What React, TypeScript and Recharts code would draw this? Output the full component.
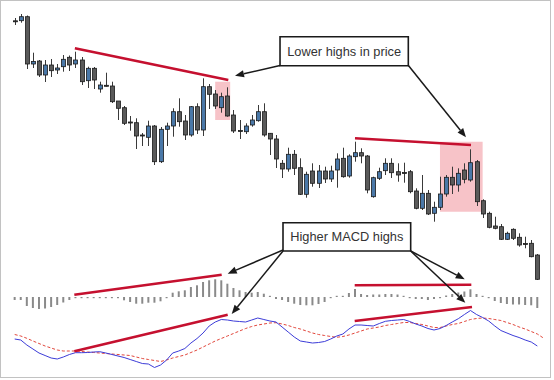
import {
  ComposedChart,
  Bar,
  Line,
  XAxis,
  YAxis,
  ReferenceLine,
  ReferenceArea,
} from 'recharts';

// daily candles
const opens = [
  135.92, 135.93, 136.33, 131.6, 131.9, 130.5, 131.5, 131.0, 131.33, 132.27,
  131.6, 132.0, 129.93, 131.17, 129.1, 129.47, 129.4, 127.9, 127.23, 125.8,
  125.73, 124.5, 124.27, 125.4, 121.83, 125.07, 125.4, 126.83, 125.9, 124.5,
  127.33, 125.0, 129.33, 128.6, 127.23, 128.4, 126.5, 124.95, 124.83, 125.5,
  125.93, 126.83, 124.67, 124.1, 121.67, 121.1, 122.57, 121.23, 118.57, 120.9,
  119.67, 120.9, 120.1, 121.0, 122.17, 120.4, 122.33, 122.73, 122.4, 118.33,
  120.17, 120.93, 121.67, 120.83, 120.75, 120.83, 118.9, 117.17, 118.67, 116.67,
  117.27, 118.6, 120.27, 119.5, 121.0, 120.0, 121.83, 117.93, 116.67, 115.4,
  115.33, 114.07, 115.07, 114.27, 113.65, 113.67, 112.5,
];
const highs = [
  136.2, 136.6, 136.45, 132.73, 132.0, 132.0, 132.1, 131.6, 132.5, 132.45,
  132.83, 132.3, 131.33, 131.3, 129.83, 130.73, 129.83, 127.9, 127.4, 126.4,
  126.17, 124.7, 125.93, 125.5, 125.3, 125.73, 127.17, 128.17, 126.5, 127.4,
  127.67, 130.17, 129.6, 129.0, 128.73, 129.27, 127.0, 126.0, 125.67, 126.5,
  127.5, 127.67, 124.7, 124.5, 122.0, 123.23, 123.0, 122.17, 120.83, 121.67,
  121.5, 121.33, 121.43, 122.67, 123.23, 122.57, 123.83, 123.17, 122.5, 120.33,
  121.23, 122.17, 122.17, 121.67, 121.73, 121.0, 119.17, 120.5, 119.0, 117.83,
  120.33, 120.5, 121.33, 121.17, 121.67, 123.07, 122.0, 118.07, 116.83, 116.33,
  115.6, 114.83, 115.17, 114.67, 114.33, 114.0, 112.6,
];
const lows = [
  135.5, 135.73, 131.1, 131.2, 130.3, 129.8, 130.3, 130.6, 130.83, 130.9,
  131.2, 129.5, 129.2, 129.1, 128.73, 129.35, 127.7, 126.0, 125.5, 124.93,
  123.1, 123.4, 123.4, 121.5, 121.7, 123.4, 124.33, 125.33, 124.0, 124.33,
  124.6, 124.4, 127.1, 127.1, 126.73, 126.33, 124.7, 124.1, 124.6, 125.33,
  125.83, 124.33, 122.5, 121.2, 120.2, 120.83, 120.5, 118.5, 118.23, 119.33,
  119.2, 119.7, 119.8, 119.23, 120.23, 120.23, 121.83, 121.67, 118.67, 118.23,
  120.0, 120.5, 120.2, 119.83, 119.73, 118.67, 117.07, 117.0, 116.5, 115.83,
  117.0, 118.33, 118.6, 118.83, 119.67, 119.83, 117.4, 116.2, 115.17, 115.07,
  114.0, 114.0, 114.0, 113.33, 113.17, 112.27, 110.0,
];
const closes = [
  135.88, 136.33, 131.6, 131.85, 130.5, 131.5, 130.93, 131.2, 132.07, 131.5,
  132.0, 129.83, 131.17, 130.0, 129.5, 129.4, 127.83, 127.17, 125.67, 125.7,
  124.4, 124.45, 125.4, 121.83, 125.07, 125.4, 126.83, 125.83, 124.5, 127.33,
  125.0, 129.33, 128.57, 127.4, 128.33, 126.4, 124.9, 124.9, 125.4, 126.0,
  126.83, 124.5, 124.1, 122.1, 121.1, 122.57, 121.17, 118.57, 120.57, 119.67,
  120.9, 120.1, 120.9, 122.1, 120.33, 122.4, 122.73, 122.4, 119.0, 120.23,
  120.83, 121.67, 120.73, 120.5, 120.7, 118.83, 117.17, 118.67, 116.6, 117.27,
  118.6, 120.27, 119.5, 120.67, 120.07, 121.73, 117.83, 116.6, 115.27, 115.17,
  114.07, 114.67, 114.17, 113.5, 113.6, 112.33, 110.07,
];

// MACD pane
const histogram = [
  -0.03, -0.03, -0.09, -0.11, -0.12, -0.115, -0.1, -0.08, -0.055, -0.03,
  -0.012, -0.012, -0.012, -0.012, -0.012, -0.012, -0.012, -0.012, -0.033, -0.05,
  -0.067, -0.067, -0.057, -0.057, -0.043, -0.012, 0.043, 0.057, 0.067, 0.1,
  0.117, 0.15, 0.167, 0.177, 0.167, 0.133, 0.09, 0.067, 0.05, 0.043,
  0.05, 0.033, 0.012, -0.02, -0.03, -0.05, -0.067, -0.08, -0.083, -0.083,
  -0.07, -0.05, -0.012, 0.012, 0.012, 0.04, 0.08, 0.03, 0.02, 0.025,
  0.025, 0.03, 0.03, 0.025, 0.012, -0.012, -0.02, -0.02, -0.03, -0.02,
  -0.012, 0.015, 0.03, 0.045, 0.055, 0.077, 0.03, 0.012, -0.012, -0.04,
  -0.06, -0.07, -0.075, -0.075, -0.08, -0.083, -0.11,
];
const macdLine = [
  0.01, 0.0, -0.05, -0.09, -0.13, -0.155, -0.18, -0.19, -0.17, -0.145,
  -0.127, -0.127, -0.125, -0.12, -0.117, -0.13, -0.145, -0.16, -0.175, -0.195,
  -0.215, -0.235, -0.24, -0.275, -0.25, -0.2, -0.13, -0.11, -0.085, -0.03,
  0.015, 0.07, 0.14, 0.18, 0.205, 0.2, 0.19, 0.185, 0.18, 0.2,
  0.22, 0.205, 0.19, 0.18, 0.13, 0.08, 0.03, -0.01, -0.02, -0.03,
  -0.025, -0.015, 0.01, 0.04, 0.06, 0.11, 0.15, 0.15, 0.145, 0.14,
  0.165, 0.187, 0.195, 0.2, 0.205, 0.185, 0.16, 0.14, 0.115, 0.1,
  0.115, 0.145, 0.18, 0.213, 0.255, 0.295, 0.255, 0.225, 0.19, 0.14,
  0.095, 0.07, 0.045, 0.025, 0.0, -0.02, -0.06,
];
const signalLine = [
  0.055, 0.04, 0.017, -0.01, -0.035, -0.06, -0.08, -0.1, -0.11, -0.11,
  -0.11, -0.115, -0.12, -0.125, -0.13, -0.135, -0.14, -0.145, -0.15, -0.155,
  -0.17, -0.185, -0.195, -0.205, -0.215, -0.2, -0.18, -0.165, -0.15, -0.125,
  -0.1, -0.07, -0.04, -0.01, 0.015, 0.04, 0.065, 0.09, 0.115, 0.135,
  0.15, 0.16, 0.17, 0.173, 0.16, 0.145, 0.125, 0.11, 0.09, 0.07,
  0.055, 0.045, 0.035, 0.027, 0.035, 0.05, 0.07, 0.09, 0.11, 0.12,
  0.13, 0.145, 0.155, 0.165, 0.175, 0.175, 0.165, 0.155, 0.14, 0.125,
  0.125, 0.14, 0.155, 0.165, 0.185, 0.205, 0.215, 0.22, 0.215, 0.205,
  0.195, 0.175, 0.155, 0.13, 0.11, 0.085, 0.06, 0.02,
];

const rows = signalLine.map((signal, i) => ({
  i,
  open: opens[i],
  high: highs[i],
  low: lows[i],
  close: closes[i],
  hist: histogram[i],
  macd: macdLine[i],
  signal,
}));

const RED = '#c5102f';
const INK = '#1a1a1a';
const X_DOMAIN: [number, number] = [-2.419, 88.744];

function Candle(props: any) {
  const { x, y, width, height, payload } = props;
  if (!payload || payload.high == null || !Number.isFinite(y)) return <g />;
  const { open, close, high, low } = payload;
  const top = Math.min(y, y + height);
  const h = Math.abs(height);
  const k = h / (high - low || 1);
  const at = (v: number) => top + (high - v) * k;
  const cx = Math.round(x + width / 2);
  const bTop = at(Math.max(open, close));
  const bBot = at(Math.min(open, close));
  return (
    <g>
      <line x1={cx + 0.5} x2={cx + 0.5} y1={top} y2={top + h} stroke="#3a3a3a" strokeWidth={1} />
      <rect
        x={cx - 1.5}
        y={bTop}
        width={4}
        height={Math.max(bBot - bTop, 1)}
        fill={close >= open ? '#4a78a8' : '#5a5a5a'}
        stroke={INK}
        strokeWidth={0.8}
      />
    </g>
  );
}

function Arrow(props: any) {
  const { x1, y1, x2, y2 } = props;
  const a = Math.atan2(y2 - y1, x2 - x1);
  const len = 9;
  const half = 3.6;
  const bx = x2 - len * Math.cos(a);
  const by = y2 - len * Math.sin(a);
  const nx = -Math.sin(a) * half;
  const ny = Math.cos(a) * half;
  return (
    <g>
      <line x1={x1} y1={y1} x2={bx} y2={by} stroke={INK} strokeWidth={1.5} />
      <polygon points={`${x2},${y2} ${bx + nx},${by + ny} ${bx - nx},${by - ny}`} fill={INK} />
    </g>
  );
}

const redLines = [
  [[9.9, 133.17], [35.15, 130.0]],
  [[56.0, 124.17], [75.09, 123.5]],
  [[9.81, 108.53], [34.06, 110.53]],
  [[55.95, 109.47], [75.14, 109.53]],
  [[9.81, 102.87], [35.05, 106.53]],
  [[55.95, 105.9], [75.25, 107.3]],
];

const arrows = [
  [[43.66, 131.45], [36.25, 130.43]],
  [[64.72, 131.5], [74.26, 124.27]],
  [[44.15, 113.0], [35.05, 110.63]],
  [[44.15, 112.9], [35.71, 106.6]],
  [[65.16, 112.9], [74.05, 110.07]],
  [[65.16, 112.9], [74.15, 107.73]],
];

export default function App() {
  return (
    <div
      style={{
        position: 'relative',
        width: 554,
        height: 380,
        background: '#fff',
        fontFamily: '"Liberation Sans", Arial, sans-serif',
      }}
    >
      <style>{'body{margin:0}'}</style>
      <ComposedChart width={554} height={380} data={rows} margin={{ top: 0, right: 0, bottom: 0, left: 0 }}>
        <XAxis xAxisId="c" dataKey="i" type="number" domain={X_DOMAIN} allowDataOverflow hide />
        <XAxis xAxisId="h" dataKey="i" type="number" domain={X_DOMAIN} allowDataOverflow hide />
        <YAxis yAxisId="price" domain={[100, 138]} allowDataOverflow hide />
        <YAxis yAxisId="hist" domain={[-0.83, 2.97]} allowDataOverflow hide />
        <YAxis yAxisId="macd" domain={[-0.4, 3.4]} allowDataOverflow hide />

        <ReferenceArea xAxisId="c" yAxisId="price" x1={32.99} x2={35.46} y1={126.0} y2={129.83} fill="#f7c3c8" fillOpacity={1} stroke="none" />
        <ReferenceArea xAxisId="c" yAxisId="price" x1={69.98} x2={77.0} y1={116.83} y2={123.83} fill="#f7c3c8" fillOpacity={1} stroke="none" />

        <Bar
          xAxisId="c"
          yAxisId="price"
          dataKey={(d: any) => (d.high == null ? null : [d.low, d.high])}
          barSize={4}
          shape={Candle}
          isAnimationActive={false}
        />
        <Bar xAxisId="h" yAxisId="hist" dataKey="hist" barSize={2} fill="#8a8a8a" isAnimationActive={false} />
        <Line
          xAxisId="c"
          yAxisId="macd"
          dataKey="signal"
          stroke="#e2473c"
          strokeWidth={1}
          strokeDasharray="3 2"
          dot={false}
          activeDot={false}
          isAnimationActive={false}
        />
        <Line
          xAxisId="c"
          yAxisId="macd"
          dataKey="macd"
          stroke="#3c3cd8"
          strokeWidth={1}
          dot={false}
          activeDot={false}
          isAnimationActive={false}
        />

        {redLines.map(([a, b], k) => (
          <ReferenceLine
            key={`r${k}`}
            xAxisId="c"
            yAxisId="price"
            segment={[{ x: a[0], y: a[1] }, { x: b[0], y: b[1] }]}
            stroke={RED}
            strokeWidth={2.6}
          />
        ))}

        <ReferenceArea
          xAxisId="c"
          yAxisId="price"
          x1={43.66}
          x2={64.77}
          y1={131.43}
          y2={134.33}
          fill="#fff"
          fillOpacity={1}
          stroke={INK}
          strokeWidth={1.6}
          label={{ value: 'Lower highs in price', position: 'center', fill: '#333', fontSize: 12.8 }}
        />
        <ReferenceArea
          xAxisId="c"
          yAxisId="price"
          x1={44.15}
          x2={65.16}
          y1={112.9}
          y2={115.73}
          fill="#fff"
          fillOpacity={1}
          stroke={INK}
          strokeWidth={1.6}
          label={{ value: 'Higher MACD highs', position: 'center', fill: '#333', fontSize: 12.8 }}
        />

        {arrows.map(([a, b], k) => (
          <ReferenceLine
            key={`a${k}`}
            xAxisId="c"
            yAxisId="price"
            segment={[{ x: a[0], y: a[1] }, { x: b[0], y: b[1] }]}
            shape={Arrow}
          />
        ))}
      </ComposedChart>
      <div
        style={{
          position: 'absolute',
          left: 0,
          top: 0,
          width: 549,
          height: 376,
          border: '1px solid #c2c2c2',
          pointerEvents: 'none',
        }}
      />
    </div>
  );
}
